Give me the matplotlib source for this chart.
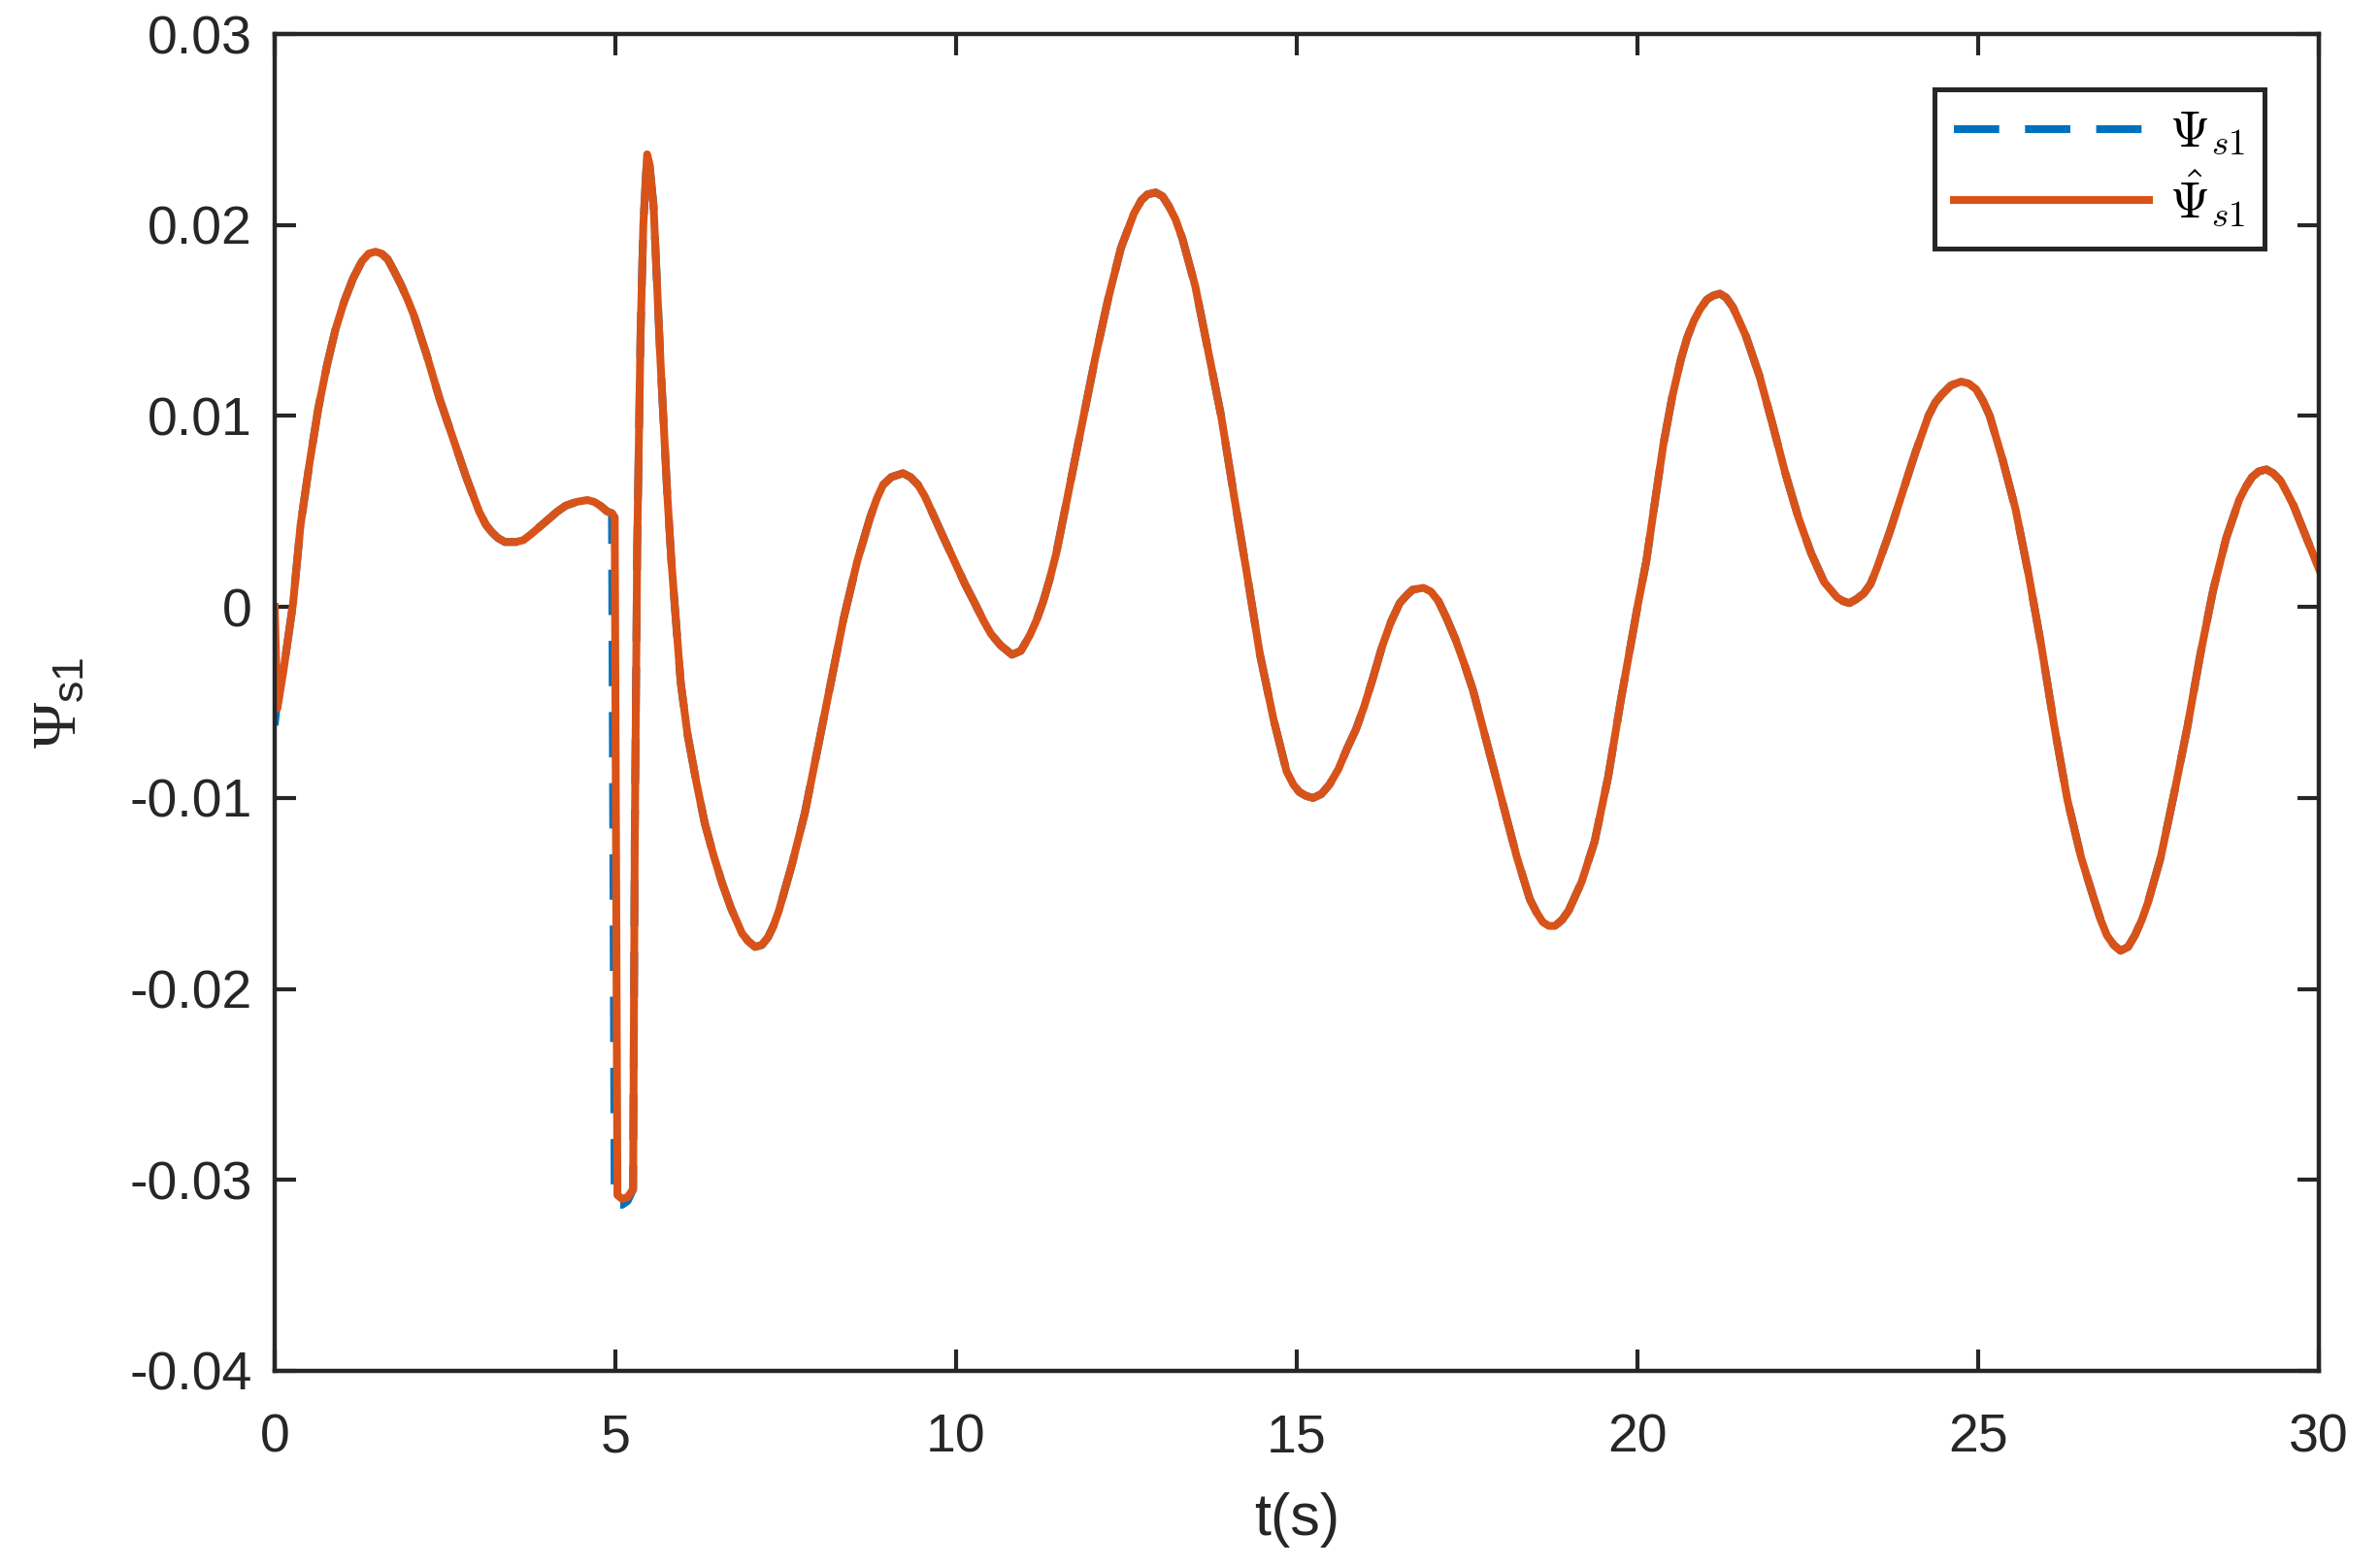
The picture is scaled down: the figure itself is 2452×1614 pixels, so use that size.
import matplotlib
matplotlib.use('Agg')
import matplotlib.pyplot as plt

# values
t = [0, 0.04, 0.13, 0.27, 0.38, 0.51, 0.64, 0.77, 0.89, 1.02, 1.15, 1.28, 1.38, 1.48,
     1.57, 1.66, 1.75, 1.85, 1.95, 2.04, 2.23, 2.42, 2.61, 2.81, 3.00, 3.10, 3.19,
     3.28, 3.38, 3.54, 3.65, 3.76, 3.89, 4.02, 4.15, 4.27, 4.43, 4.59, 4.69, 4.78,
     4.88, 4.95, 4.99, 5.03, 5.10, 5.18, 5.26, 5.285, 5.32, 5.37, 5.41, 5.466, 5.50,
     5.56, 5.61, 5.66, 5.71, 5.76, 5.82, 5.89, 5.96, 6.06, 6.19, 6.31, 6.44, 6.57,
     6.70, 6.86, 6.95, 7.05, 7.15, 7.24, 7.32, 7.40, 7.59, 7.78, 7.97, 8.16, 8.35,
     8.55, 8.74, 8.84, 8.93, 9.05, 9.22, 9.33, 9.44, 9.54, 9.63, 9.82, 10.0, 10.13,
     10.26, 10.40, 10.51, 10.65, 10.82, 10.95, 11.08, 11.18, 11.28, 11.37, 11.47,
     11.66, 11.85, 12.04, 12.23, 12.42, 12.61, 12.72, 12.81, 12.93, 13.03, 13.12,
     13.22, 13.32, 13.51, 13.70, 13.89, 14.08, 14.27, 14.46, 14.66, 14.85, 14.95,
     15.04, 15.14, 15.24, 15.36, 15.48, 15.61, 15.74, 15.87, 15.99, 16.12, 16.25,
     16.38, 16.51, 16.61, 16.70, 16.86, 16.97, 17.08, 17.20, 17.33, 17.46, 17.59,
     17.84, 18.04, 18.23, 18.42, 18.52, 18.61, 18.70, 18.79, 18.89, 18.99, 19.18,
     19.37, 19.57, 19.76, 19.95, 20.0, 20.13, 20.26, 20.38, 20.51, 20.64, 20.73,
     20.83, 20.92, 21.02, 21.11, 21.21, 21.30, 21.40, 21.49, 21.59, 21.79, 21.98,
     22.17, 22.36, 22.55, 22.74, 22.93, 23.02, 23.11, 23.21, 23.32, 23.42, 23.51,
     23.70, 23.89, 24.08, 24.27, 24.37, 24.46, 24.60, 24.75, 24.86, 24.97, 25.07,
     25.17, 25.36, 25.55, 25.74, 25.93, 26.12, 26.31, 26.51, 26.70, 26.80, 26.89,
     26.99, 27.09, 27.20, 27.30, 27.40, 27.49, 27.68, 27.88, 28.07, 28.26, 28.45,
     28.64, 28.83, 28.93, 29.02, 29.12, 29.23, 29.33, 29.44, 29.53, 29.63, 29.82, 30.0]

# estimated signal (orange, solid)
psi_hat = [0.0, -0.0053, -0.0033, 0.0002, 0.0043, 0.0075, 0.0104, 0.0127, 0.0145,
           0.0160, 0.0172, 0.0181, 0.0185, 0.0186, 0.0185, 0.0182, 0.0176, 0.0169,
           0.0161, 0.0153, 0.0132, 0.0109, 0.0089, 0.0068, 0.0050, 0.0043, 0.0039,
           0.0036, 0.0034, 0.0034, 0.0035, 0.0038, 0.0042, 0.0046, 0.0050, 0.0053,
           0.0055, 0.0056, 0.0055, 0.0053, 0.0050, 0.0049, 0.0047, -0.0308, -0.0310,
           -0.0309, -0.0305, -0.0119, 0.0031, 0.0144, 0.0200, 0.0237, 0.0232, 0.0210,
           0.0170, 0.0130, 0.0095, 0.0060, 0.0025, -0.0008, -0.0040, -0.0067, -0.0092,
           -0.0113, -0.0130, -0.0145, -0.0158, -0.0171, -0.0175, -0.0178, -0.0177,
           -0.0173, -0.0167, -0.0159, -0.0135, -0.0108, -0.0074, -0.0040, -0.0006,
           0.0024, 0.0047, 0.0057, 0.0064, 0.0068, 0.0070, 0.0068, 0.0064, 0.0058,
           0.0051, 0.0036, 0.0022, 0.0012, 0.0003, -0.0007, -0.0014, -0.0020, -0.0025,
           -0.0023, -0.0015, -0.0007, 0.0003, 0.0014, 0.0028, 0.0062, 0.0096, 0.0130,
           0.0161, 0.0188, 0.0206, 0.0213, 0.0216, 0.0217, 0.0215, 0.0210, 0.0203,
           0.0193, 0.0168, 0.0134, 0.0100, 0.0058, 0.0017, -0.0025, -0.0059, -0.0086,
           -0.0093, -0.0097, -0.0099, -0.0100, -0.0098, -0.0093, -0.0085, -0.0074,
           -0.0064, -0.0052, -0.0037, -0.0021, -0.0008, 0.0002, 0.0006, 0.0009, 0.0010,
           0.0008, 0.0003, -0.0006, -0.0017, -0.0030, -0.0044, -0.0078, -0.0105,
           -0.0131, -0.0153, -0.0160, -0.0165, -0.0167, -0.0167, -0.0164, -0.0159,
           -0.0144, -0.0123, -0.0089, -0.0048, -0.0010, 0.0000, 0.0024, 0.0056, 0.0085,
           0.0110, 0.0130, 0.0141, 0.0150, 0.0156, 0.0161, 0.0163, 0.0164, 0.0162,
           0.0157, 0.0150, 0.0142, 0.0121, 0.0096, 0.0070, 0.0047, 0.0028, 0.0013,
           0.0005, 0.0003, 0.0002, 0.0004, 0.0007, 0.0012, 0.0020, 0.0039, 0.0060,
           0.0081, 0.0100, 0.0107, 0.0111, 0.0116, 0.0118, 0.0117, 0.0114, 0.0108,
           0.0100, 0.0077, 0.0051, 0.0017, -0.0021, -0.0063, -0.0101, -0.0131, -0.0153,
           -0.0164, -0.0172, -0.0177, -0.0180, -0.0178, -0.0172, -0.0164, -0.0155,
           -0.0131, -0.0097, -0.0063, -0.0025, 0.0009, 0.0036, 0.0056, 0.0063, 0.0068,
           0.0071, 0.0072, 0.0070, 0.0066, 0.0060, 0.0053, 0.0036, 0.0020]

# true signal (blue, dashed): same as the estimate except these points
psi_fix_t = [0, 0.04, 4.99, 5.03, 5.10, 5.18]
psi_fix_v = [-0.0062, -0.0048, -0.0313, -0.0313, -0.0313, -0.0311]

psi = list(psi_hat)
for tf, vf in zip(psi_fix_t, psi_fix_v):
    psi[t.index(tf)] = vf

blue = '#0072BD'
orange = '#D95319'
dark = '#262626'

plt.rcParams['font.family'] = ['Liberation Sans', 'DejaVu Sans']
plt.rcParams['mathtext.fontset'] = 'custom'
plt.rcParams['mathtext.rm'] = 'Liberation Serif'
plt.rcParams['mathtext.sf'] = 'Liberation Sans'
plt.rcParams['mathtext.it'] = 'Liberation Serif:italic'

fig = plt.figure(figsize=(24.52, 16.14), dpi=100)
ax = fig.add_axes([283 / 2452, 202 / 1614, 2106 / 2452, 1377 / 1614])

ax.plot(t, psi, color=blue, lw=5.8, dashes=(5.8, 3.3), label=r'$\Psi_{s1}$')
ax.plot(t, psi_hat, color=orange, lw=5.8, solid_joinstyle='round', label=r'$\hat{\Psi}_{s1}$')

ax.set_xlim(0, 30)
ax.set_ylim(-0.04, 0.03)
xt = [0, 5, 10, 15, 20, 25, 30]
yt = [-0.04, -0.03, -0.02, -0.01, 0, 0.01, 0.02, 0.03]
ax.set_xticks(xt)
ax.set_xticklabels([str(v) for v in xt])
ax.set_yticks(yt)
ax.set_yticklabels(['-0.04', '-0.03', '-0.02', '-0.01', '0', '0.01', '0.02', '0.03'])

ax.tick_params(direction='in', length=16, width=3, color=dark, labelcolor=dark,
               labelsize=40, top=True, right=True)
ax.tick_params(axis='x', pad=31)
ax.tick_params(axis='y', pad=17)
for s in ax.spines.values():
    s.set_linewidth(3.2)
    s.set_color(dark)

ax.set_xlabel('t(s)', fontsize=44, color=dark)
ax.xaxis.set_label_coords(0.5, -0.091)
ax.set_ylabel(r'$\Psi_{\mathsf{s1}}$', fontsize=46, color=dark)
ax.yaxis.set_label_coords(-0.091, 0.5)

leg = ax.legend(loc='upper right', bbox_to_anchor=(0.9734, 0.9586), borderaxespad=0,
                fontsize=38, handlelength=3.8, handletextpad=0.4, borderpad=0.38,
                labelspacing=0.2, fancybox=False, framealpha=1)
leg.get_frame().set_edgecolor(dark)
leg.get_frame().set_linewidth(3.6)
for txt in leg.get_texts():
    txt.set_math_fontfamily('cm')

fig.savefig('out.png', dpi=100)
